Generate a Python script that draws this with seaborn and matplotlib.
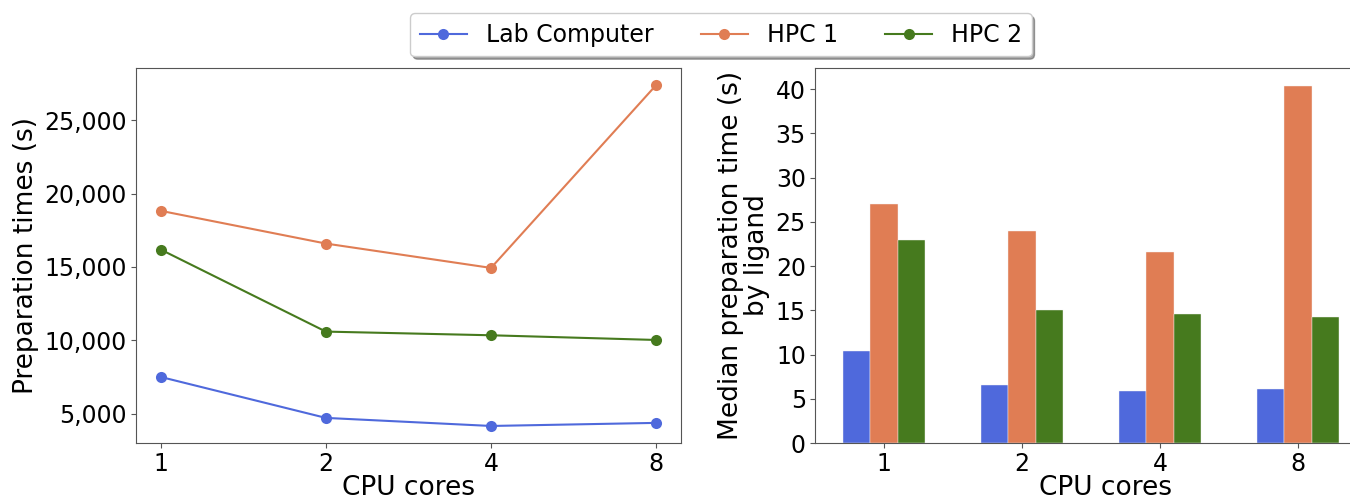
import matplotlib
matplotlib.use("Agg")
import matplotlib.pyplot as plt
import matplotlib.ticker as mticker
import seaborn as sns
import pandas as pd

cores = ["1", "2", "4", "8"]
series = ["Lab Computer", "HPC 1", "HPC 2"]
total_lab = [7500, 4710, 4160, 4370]
total_hpc1 = [18820, 16590, 14930, 27390]
total_hpc2 = [16180, 10590, 10340, 10020]
median_lab = [10.45, 6.6, 5.85, 6.1]
median_hpc1 = [27.0, 24.0, 21.6, 40.4]
median_hpc2 = [22.9, 15.05, 14.6, 14.2]
colors = ["#4F69DC", "#E07D54", "#467A1E"]

rows_t = []
rows_m = []
for name, tv, mv in zip(series, [total_lab, total_hpc1, total_hpc2],
                        [median_lab, median_hpc1, median_hpc2]):
    for c, t, m in zip(cores, tv, mv):
        rows_t.append({"cores": c, "time": t, "machine": name})
        rows_m.append({"cores": c, "time": m, "machine": name})
df_t = pd.DataFrame(rows_t)
df_m = pd.DataFrame(rows_m)

plt.rcParams["font.family"] = ["DejaVu Sans"]
plt.rcParams["axes.edgecolor"] = "#555555"
plt.rcParams["xtick.color"] = "#555555"
plt.rcParams["ytick.color"] = "#555555"
plt.rcParams["xtick.labelcolor"] = "black"
plt.rcParams["ytick.labelcolor"] = "black"

fig = plt.figure(figsize=(13.5, 4.99), dpi=100)
ax1 = fig.add_axes([0.1007, 0.1122, 0.4037, 0.7515])
ax2 = fig.add_axes([0.6037, 0.1122, 0.43, 0.7515])

pal = dict(zip(series, colors))
sns.lineplot(data=df_t, x="cores", y="time", hue="machine", hue_order=series,
             palette=pal, marker="o", markersize=8, markeredgewidth=0,
             linewidth=1.5, ax=ax1, legend=True)
ax1.yaxis.set_major_formatter(mticker.FuncFormatter(lambda v, p: f"{int(v):,}"))
ax1.set_xlabel("CPU cores", fontsize=19, labelpad=-1)
ax1.set_ylabel("Preparation times (s)", fontsize=19, labelpad=4)
ax1.tick_params(labelsize=17, length=3.5, pad=3)
handles, labels = ax1.get_legend_handles_labels()
ax1.get_legend().remove()

sns.barplot(data=df_m, x="cores", y="time", hue="machine", hue_order=series,
            palette=pal, width=0.6, edgecolor="#F4F4F4", linewidth=0.3,
            saturation=1, ax=ax2, legend=False)
ax2.set_xlim(-0.5, -0.5 + 0.43 * 1350 / 138)
ax2.set_ylim(0, 42.4)
ax2.yaxis.set_major_locator(mticker.MultipleLocator(5))
ax2.set_xlabel("CPU cores", fontsize=19, labelpad=-1)
ax2.set_ylabel("Median preparation time (s)\nby ligand", fontsize=19,
               labelpad=4, linespacing=1.0)
ax2.tick_params(labelsize=17, length=3.5, pad=3)
for s in ax2.spines.values():
    s.set_visible(True)

fig.legend(handles, labels, loc="center", bbox_to_anchor=(721 / 1350, 0.93),
           ncol=3, shadow=True, fancybox=True, fontsize=17, columnspacing=2.0,
           handlelength=2.0, borderpad=0.4, frameon=True)

fig.savefig("out.png", dpi=100)
